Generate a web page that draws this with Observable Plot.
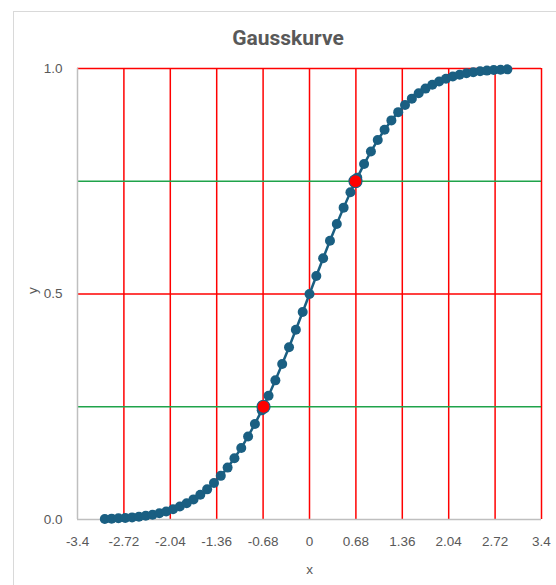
<!DOCTYPE html>
<html>
<head>
<meta charset="utf-8">
<script src="https://cdn.jsdelivr.net/npm/d3@7"></script>
<script src="https://cdn.jsdelivr.net/npm/@observablehq/plot@0.6"></script>
<style>
  html, body { margin: 0; padding: 0; background: #fff; }
  #wrap { position: relative; width: 556px; height: 585px; overflow: hidden; }
  #frame { position: absolute; left: 13px; top: 11px; width: 600px; height: 600px;
           border-left: 1.5px solid #d9d9d9; border-top: 1.5px solid #d9d9d9; }
  #title { position: absolute; left: 0; width: 576px; top: 26px; text-align: center;
           font-family: Roboto, "Liberation Sans", sans-serif; font-weight: bold;
           font-size: 21px; color: #595959; }
  #chart { position: absolute; left: 0; top: 0; }
</style>
</head>
<body>
<div id="wrap">
  <div id="frame"></div>
  <div id="chart"></div>
  <div id="title">Gausskurve</div>
</div>
<script>
const xs = [-3.0,-2.9,-2.8,-2.7,-2.6,-2.5,-2.4,-2.3,-2.2,-2.1,-2.0,-1.9,-1.8,-1.7,-1.6,-1.5,-1.4,-1.3,-1.2,-1.1,
            -1.0,-0.9,-0.8,-0.7,-0.6,-0.5,-0.4,-0.3,-0.2,-0.1,0.0,0.1,0.2,0.3,0.4,0.5,0.6,0.7,0.8,0.9,
            1.0,1.1,1.2,1.3,1.4,1.5,1.6,1.7,1.8,1.9,2.0,2.1,2.2,2.3,2.4,2.5,2.6,2.7,2.8,2.9];
const ys = [0.0013,0.0019,0.0026,0.0035,0.0047,0.0062,0.0082,0.0107,0.0139,0.0179,0.0228,0.0287,0.0359,0.0446,0.0548,0.0668,0.0808,0.0968,0.1151,0.1357,
            0.1587,0.1841,0.2119,0.2420,0.2743,0.3085,0.3446,0.3821,0.4207,0.4602,0.5000,0.5398,0.5793,0.6179,0.6554,0.6915,0.7257,0.7580,0.7881,0.8159,
            0.8413,0.8643,0.8849,0.9032,0.9192,0.9332,0.9452,0.9554,0.9641,0.9713,0.9772,0.9821,0.9861,0.9893,0.9918,0.9938,0.9953,0.9965,0.9974,0.9981];
const highlightX = [-0.674, 0.674];
const highlightY = [0.25, 0.75];
const xTicks = [-3.4,-2.72,-2.04,-1.36,-0.68,0,0.68,1.36,2.04,2.72,3.4];
const xTickLabels = ["-3.4","-2.72","-2.04","-1.36","-0.68","0","0.68","1.36","2.04","2.72","3.4"];
const yTicks = [0, 0.5, 1.0];
const yTickLabels = ["0.0","0.5","1.0"];
const redH = [0.5, 1.0];
const greenH = [0.25, 0.75];

const pts = xs.map((x, i) => ({x, y: ys[i]}));
const hl = highlightX.map((x, i) => ({x, y: highlightY[i]}));
const blue = "#1a5f82";
const grey = "#595959";

const plot = Plot.plot({
  width: 556, height: 585,
  marginLeft: 77, marginRight: 15, marginTop: 68, marginBottom: 66,
  style: {fontFamily: '"Liberation Sans", Arial, sans-serif', fontSize: "13.5px", color: grey, background: "transparent"},
  x: {domain: [-3.4, 3.4]},
  y: {domain: [0, 1]},
  marks: [
    Plot.ruleX(xTicks.slice(1), {y1: 0, y2: 1, stroke: "#ff0000", strokeWidth: 1.5}),
    Plot.ruleY(redH, {x1: -3.4, x2: 3.4, stroke: "#ff0000", strokeWidth: 1.5}),
    Plot.ruleY(greenH, {x1: -3.4, x2: 3.4, stroke: "#1fa34a", strokeWidth: 1.5}),
    Plot.ruleY([0], {x1: -3.4, x2: 3.4, stroke: "#bfbfbf", strokeWidth: 1.5}),
    Plot.ruleX([-3.4], {y1: 0, y2: 1, stroke: "#bfbfbf", strokeWidth: 1.5}),
    Plot.axisX(xTicks, {tickSize: 0, tickPadding: 17, fill: grey, fontSize: 13.5,
      tickFormat: (d, i) => xTickLabels[i], label: null}),
    Plot.axisY(yTicks, {tickSize: 0, tickPadding: 15, fill: grey, fontSize: 13.5,
      tickFormat: (d, i) => yTickLabels[i], label: null}),
    Plot.text(["x"], {frameAnchor: "bottom", dy: 50, fill: grey, fontSize: 13.5, lineAnchor: "middle"}),
    Plot.text(["y"], {frameAnchor: "left", dx: -45, rotate: -90, fill: grey, fontSize: 13.5, lineAnchor: "middle"}),
    Plot.line(pts, {x: "x", y: "y", stroke: blue, strokeWidth: 2.5}),
    Plot.dot(pts, {x: "x", y: "y", r: 5, fill: blue}),
    Plot.dot(hl, {x: "x", y: "y", r: 6.5, fill: "#ff0000", stroke: blue, strokeWidth: 1.2})
  ]
});
document.getElementById("chart").appendChild(plot);
</script>
</body>
</html>
